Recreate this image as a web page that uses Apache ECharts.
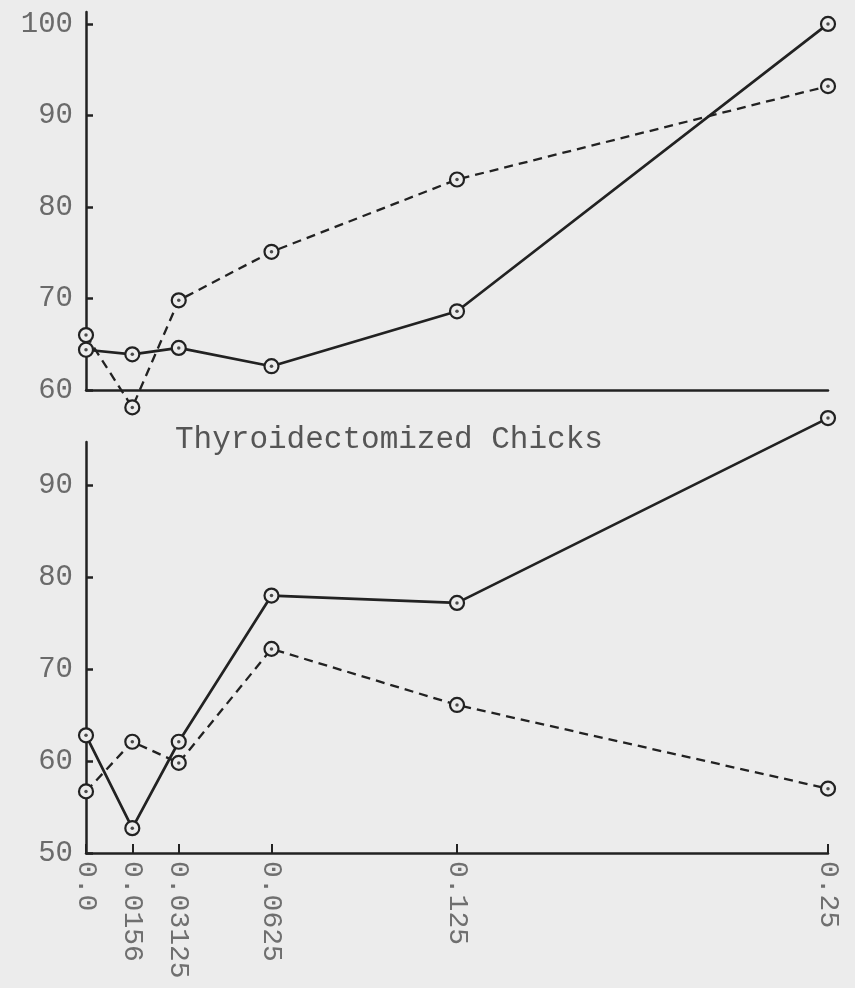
<!DOCTYPE html>
<html>
<head>
<meta charset="utf-8">
<script src="https://cdn.jsdelivr.net/npm/echarts@6/dist/echarts.min.js"></script>
<style>
html,body{margin:0;padding:0;background:#ececec;}
#c{width:855px;height:988px;}
</style>
</head>
<body>
<div id="c"></div>
<script>
// ---- data ----
const xValues = [0, 0.0156, 0.03125, 0.0625, 0.125, 0.25];
const xTickLabels = ['0.0', '0.0156', '0.03125', '0.0625', '0.125', '0.25'];
const topSolid = [64.4, 63.9, 64.6, 62.6, 68.6, 100];
const topDashed = [66.0, 58.1, 69.8, 75.1, 83.0, 93.2];
const bottomSolid = [62.8, 52.7, 62.1, 78.0, 77.2, 97.3];
const bottomDashed = [56.7, 62.1, 59.8, 72.2, 66.1, 57.0];
const topYTicks = [60, 70, 80, 90, 100];
const bottomYTicks = [50, 60, 70, 80, 90];
const panelTitle = 'Thyroidectomized Chicks';

// ---- chart ----
const FONT = 'Liberation Mono';
const INK = '#222';
const PAPER = '#ececec';
const pairs = ys => xValues.map((x, i) => [x, ys[i]]);

function lineSeries(ys, idx, dashed) {
  return {
    type: 'line', xAxisIndex: idx, yAxisIndex: idx,
    data: pairs(ys), clip: false,
    symbol: 'circle', symbolSize: 14,
    itemStyle: { color: PAPER, borderColor: INK, borderWidth: 2.2 },
    lineStyle: { color: INK, width: dashed ? 2.3 : 2.7, type: dashed ? [9, 6] : 'solid' },
    z: 2, animation: false
  };
}
function dotSeries(ys, idx) {
  return {
    type: 'scatter', xAxisIndex: idx, yAxisIndex: idx,
    data: pairs(ys), clip: false, symbolSize: 3.5,
    itemStyle: { color: INK }, z: 5, animation: false
  };
}
function yAxis(idx, min, max, ticks) {
  return {
    type: 'value', gridIndex: idx, min: min, max: max,
    axisLine: { show: true, lineStyle: { color: INK, width: 2.5 } },
    axisTick: { show: true, inside: true, length: 7, customValues: ticks, lineStyle: { color: INK, width: 2.5 } },
    axisLabel: { customValues: ticks, margin: 13, fontFamily: FONT, fontSize: 29, color: '#6a6a6a' },
    splitLine: { show: false }
  };
}

const chart = echarts.init(document.getElementById('c'), null, { renderer: 'canvas' });
chart.setOption({
  backgroundColor: PAPER,
  animation: false,
  title: {
    text: panelTitle, left: 170, top: 419,
    textStyle: { fontFamily: FONT, fontSize: 31, fontWeight: 'normal', color: '#555' }
  },
  grid: [
    { left: 86, right: 27, top: 12, height: 378, containLabel: false },
    { left: 86, right: 27, top: 442, height: 411, containLabel: false }
  ],
  xAxis: [
    {
      type: 'value', gridIndex: 0, min: 0, max: 0.25,
      axisLine: { show: true, onZero: false, lineStyle: { color: INK, width: 2.5 } },
      axisTick: { show: false }, axisLabel: { show: false }, splitLine: { show: false }
    },
    {
      type: 'value', gridIndex: 1, min: 0, max: 0.25,
      axisLine: { show: true, onZero: false, lineStyle: { color: INK, width: 2.5 } },
      axisTick: { show: true, inside: true, length: 9, customValues: xValues, lineStyle: { color: INK, width: 2 } },
      axisLabel: {
        customValues: xValues, rotate: -90, margin: 8,
        fontFamily: FONT, fontSize: 28, color: '#6f6f6f',
        formatter: v => { const i = xValues.indexOf(v); return i >= 0 ? xTickLabels[i] : ''; }
      },
      splitLine: { show: false }
    }
  ],
  yAxis: [
    yAxis(0, 60, 101.3, topYTicks),
    yAxis(1, 50, 94.7, bottomYTicks)
  ],
  series: [
    lineSeries(topSolid, 0, false),
    lineSeries(topDashed, 0, true),
    lineSeries(bottomSolid, 1, false),
    lineSeries(bottomDashed, 1, true),
    dotSeries(topSolid, 0),
    dotSeries(topDashed, 0),
    dotSeries(bottomSolid, 1),
    dotSeries(bottomDashed, 1)
  ]
});
</script>
</body>
</html>
